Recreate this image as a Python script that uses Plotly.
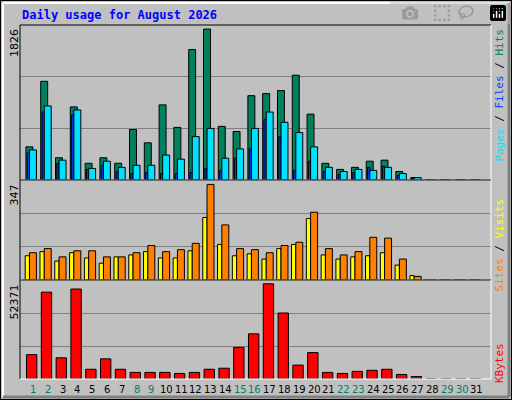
import plotly.graph_objects as go

days = list(range(1, 32))
hits = [401, 1194, 269, 884, 202, 269, 202, 611, 450, 909, 636, 1578, 1826, 649, 587, 1020,
        1045, 1082, 1268, 797, 202, 128, 153, 227, 240, 103, 29, 0, 0, 0, 0]
files = [326, 822, 202, 785, 128, 178, 103, 78, 91, 78, 78, 91, 140, 116, 264, 376,
         735, 525, 116, 227, 103, 66, 91, 153, 165, 54, 16, 0, 0, 0, 0]
pages = [364, 896, 240, 847, 140, 227, 153, 178, 178, 302, 252, 525, 624, 264, 376, 624,
         822, 698, 574, 401, 153, 103, 128, 116, 153, 78, 29, 0, 0, 0, 0]
sites = [88, 103, 69, 99, 80, 61, 84, 91, 103, 80, 80, 106, 227, 129, 88, 95,
         76, 114, 129, 223, 91, 76, 84, 88, 99, 54, 16, 0, 0, 0, 0]
visits = [99, 114, 84, 106, 106, 84, 84, 99, 125, 103, 110, 133, 347, 200, 114, 110,
          99, 125, 137, 246, 114, 91, 103, 155, 152, 76, 13, 0, 0, 0, 0]
kbytes = [13379, 47784, 11659, 49504, 5352, 11086, 5352, 3632, 3632, 3632, 3058, 3632, 5352, 5925,
          17393, 24847, 52371, 36316, 7645, 14526, 3632, 3058, 4205, 4778, 5352, 2485, 1338, 0, 0, 0, 0]
weekend = [1, 2, 8, 9, 15, 16, 22, 23, 29, 30]

W, H = 512, 400
def fy(p):  # pixel from top -> paper fraction
    return 1 - p / H

mono = "DejaVu Sans Mono"
fig = go.Figure()

def bars(y, col, off, wid, ax):
    fig.add_trace(go.Bar(x=days, y=y, offset=off, width=wid, marker_color=col,
                         marker_line=dict(color="black", width=1), xaxis="x", yaxis=ax,
                         showlegend=False, hoverinfo="skip"))

bars(hits, "#00805C", -0.48, 0.47, "y")
bars(files, "#0040FF", -0.39, 0.16, "y")
bars(pages, "#00E0FF", -0.24, 0.47, "y")
bars(sites, "#FFFF00", -0.53, 0.29, "y2")
bars(visits, "#FF8000", -0.24, 0.47, "y2")
bars(kbytes, "#FF0000", -0.44, 0.70, "y3")

def yax(top, dom):
    rng = top
    return dict(domain=dom, range=[0, rng], tickvals=[rng / 3, 2 * rng / 3], showticklabels=False,
                showgrid=True, gridcolor="#808080", gridwidth=1, zeroline=False, ticks="",
                anchor="x", fixedrange=True)

x0, x1 = 20 / W, 491 / W
fig.update_layout(
    width=W, height=H, margin=dict(l=0, r=0, t=0, b=0),
    paper_bgcolor="#C0C0C0", plot_bgcolor="#C0C0C0", barmode="overlay",
    xaxis=dict(domain=[x0, x1], range=[0.12, 31.95], showticklabels=False, showgrid=False,
               zeroline=False, anchor="y3", fixedrange=True),
    yaxis=yax(1875, [fy(180), fy(25)]),
    yaxis2=yax(363, [fy(280), fy(180)]),
    yaxis3=yax(54473, [fy(379), fy(280)]),
)

shapes = []
# outer frame
shapes.append(dict(type="rect", xref="paper", yref="paper", x0=0, x1=1, y0=0, y1=1,
                   line=dict(color="black", width=2)))
shapes.append(dict(type="line", xref="paper", yref="paper", x0=3 / W, x1=3 / W, y0=fy(397), y1=fy(3),
                   line=dict(color="white", width=2)))
shapes.append(dict(type="line", xref="paper", yref="paper", x0=3 / W, x1=509 / W, y0=fy(3), y1=fy(3),
                   line=dict(color="white", width=2)))
shapes.append(dict(type="line", xref="paper", yref="paper", x0=509 / W, x1=509 / W, y0=fy(397), y1=fy(3),
                   line=dict(color="#808080", width=3)))
shapes.append(dict(type="line", xref="paper", yref="paper", x0=3 / W, x1=509 / W, y0=fy(397), y1=fy(397),
                   line=dict(color="#808080", width=3)))
# panel frames
for top, bot in [(25, 180), (180, 280), (280, 379)]:
    shapes.append(dict(type="line", xref="paper", yref="paper", x0=x0, x1=x0, y0=fy(bot), y1=fy(top),
                       line=dict(color="black", width=1)))
    shapes.append(dict(type="line", xref="paper", yref="paper", x0=x0, x1=x1, y0=fy(top), y1=fy(top),
                       line=dict(color="black", width=1)))
    shapes.append(dict(type="line", xref="paper", yref="paper", x0=x1, x1=x1, y0=fy(bot), y1=fy(top),
                       line=dict(color="white", width=1)))
    shapes.append(dict(type="line", xref="paper", yref="paper", x0=x0, x1=x1, y0=fy(bot), y1=fy(bot),
                       line=dict(color="white", width=1)))
fig.update_layout(shapes=shapes)

ann = [dict(text="<b>Daily usage for August 2026</b>", x=20 / W, y=fy(15), xref="paper", yref="paper",
            xanchor="left", yanchor="middle", showarrow=False, font=dict(family=mono, size=12, color="#0000FF"))]
for txt, top in [("1826", 27), ("347", 183), ("52371", 283)]:
    ann.append(dict(text=txt, x=14 / W, y=fy(top), xref="paper", yref="paper", textangle=-90,
                    xanchor="center", yanchor="top", showarrow=False,
                    font=dict(family="DejaVu Sans", size=11, color="black")))
ann.append(dict(text="<span style='color:#00E0FF'>Pages</span> / <span style='color:#0040FF'>Files</span>"
                     " / <span style='color:#00805C'>Hits</span>",
                x=499 / W, y=fy(27), xref="paper", yref="paper", textangle=-90, xanchor="center",
                yanchor="top", showarrow=False, font=dict(family=mono, size=11, color="black")))
ann.append(dict(text="<span style='color:#FF8000'>Sites</span> / <span style='color:#FFFF00'>Visits</span>",
                x=499 / W, y=fy(197), xref="paper", yref="paper", textangle=-90, xanchor="center",
                yanchor="top", showarrow=False, font=dict(family=mono, size=11, color="black")))
ann.append(dict(text="<span style='color:#FF0000'>KBytes</span>",
                x=499 / W, y=fy(341), xref="paper", yref="paper", textangle=-90, xanchor="center",
                yanchor="top", showarrow=False, font=dict(family=mono, size=11, color="black")))
for d in days:
    ann.append(dict(text=str(d), x=d, y=fy(389), xref="x", yref="paper", showarrow=False,
                    xanchor="center", yanchor="middle",
                    font=dict(family="DejaVu Sans", size=10,
                              color="#00805C" if d in weekend else "black")))
fig.update_layout(annotations=ann)

fig.write_html("out.html", post_script="document.body.style.margin='0';")
